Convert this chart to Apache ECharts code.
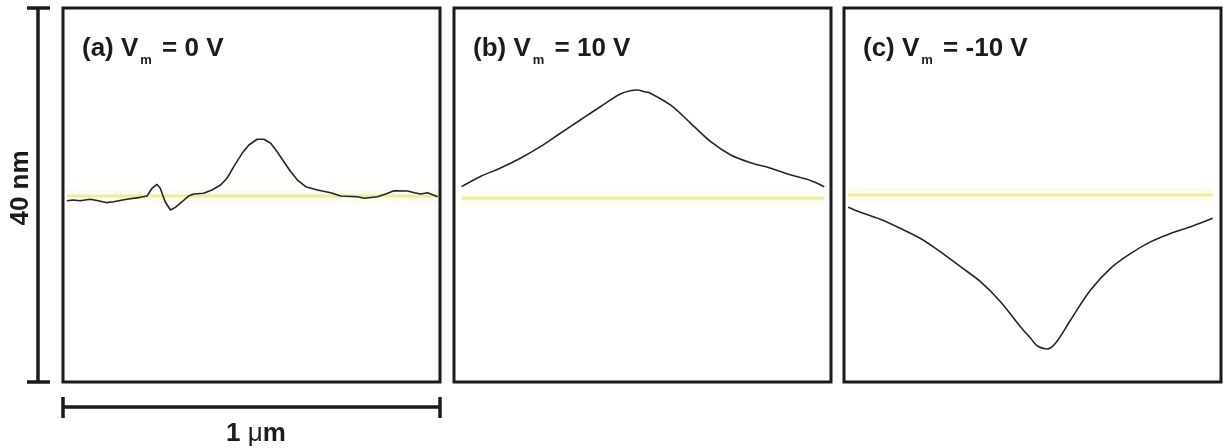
<!DOCTYPE html>
<html>
<head>
<meta charset="utf-8">
<script src="https://cdn.jsdelivr.net/npm/echarts@6/dist/echarts.min.js"></script>
<style>
  html, body { margin: 0; padding: 0; background: #ffffff; }
  #chart { width: 1223px; height: 448px; }
</style>
</head>
<body>
<div id="chart"></div>
<script>
// Surface height profiles (nm) across a 1 µm scan line, for three bias voltages.
const panelLabels = ['(a)', '(b)', '(c)'];
const biasValues = ['0', '10', '-10'];

// (a) V_m = 0 V
const posA = [0.010, 0.027, 0.045, 0.072, 0.094, 0.116, 0.134, 0.169, 0.205, 0.223, 0.236, 0.249, 0.258, 0.271, 0.285, 0.298, 0.316, 0.333, 0.347, 0.373, 0.395, 0.418, 0.435, 0.453, 0.475, 0.493, 0.515, 0.533, 0.551, 0.568, 0.586, 0.604, 0.622, 0.644, 0.675, 0.710, 0.737, 0.781, 0.799, 0.834, 0.856, 0.878, 0.914, 0.932, 0.949, 0.967, 0.994];
const heightA = [19.39, 19.47, 19.39, 19.54, 19.39, 19.18, 19.28, 19.54, 19.75, 19.89, 20.72, 21.14, 20.72, 19.28, 18.40, 18.68, 19.28, 19.89, 20.11, 20.18, 20.53, 21.07, 21.79, 23.03, 24.46, 25.35, 25.96, 25.96, 25.53, 24.63, 23.56, 22.49, 21.60, 20.89, 20.53, 20.25, 19.89, 19.82, 19.65, 19.82, 20.11, 20.46, 20.43, 20.25, 20.11, 20.25, 19.82];

// (b) V_m = 10 V
const posB = [0.020, 0.069, 0.122, 0.176, 0.229, 0.282, 0.335, 0.388, 0.441, 0.468, 0.486, 0.505, 0.521, 0.574, 0.628, 0.681, 0.734, 0.787, 0.840, 0.894, 0.947, 0.982];
const heightB = [20.89, 21.96, 22.86, 23.93, 25.17, 26.60, 28.02, 29.44, 30.80, 31.16, 31.23, 31.05, 30.88, 29.63, 27.67, 25.70, 24.28, 23.45, 22.86, 22.14, 21.53, 20.89];

// (c) V_m = -10 V
const posC = [0.011, 0.043, 0.096, 0.149, 0.202, 0.255, 0.309, 0.362, 0.415, 0.468, 0.495, 0.513, 0.539, 0.561, 0.601, 0.654, 0.707, 0.761, 0.814, 0.867, 0.920, 0.978];
const heightC = [18.68, 18.15, 17.40, 16.44, 15.37, 13.94, 12.33, 10.73, 8.59, 5.91, 4.67, 3.85, 3.53, 4.14, 6.63, 9.84, 12.16, 13.76, 15.01, 15.90, 16.61, 17.51];

// Flat reference level for each panel (nm)
const referenceLevels = [19.9, 19.65, 20.0];

// Axis extents: 1 µm wide, 40 nm tall
const xRange = [0, 1];
const yRange = [0, 40];
const scaleBarLabels = ['40 nm', '1 μm'];

const profiles = [[posA, heightA], [posB, heightB], [posC, heightC]];
const zip = (xs, ys) => xs.map((x, i) => [x, ys[i]]);

const FONT = '"Liberation Sans", Arial, sans-serif';
const INK = '#1b1b1b';
const gridLefts = [63, 454, 844];
const GRID_TOP = 8, GRID_W = 377, GRID_H = 374;

const grids = gridLefts.map(left => ({
  left: left, top: GRID_TOP, width: GRID_W, height: GRID_H,
  show: true, borderColor: INK, borderWidth: 3, backgroundColor: '#ffffff'
}));
const xAxes = gridLefts.map((_, i) => ({
  type: 'value', gridIndex: i, min: xRange[0], max: xRange[1],
  show: false
}));
const yAxes = gridLefts.map((_, i) => ({
  type: 'value', gridIndex: i, min: yRange[0], max: yRange[1],
  show: false
}));

const series = [];
profiles.forEach(([xs, ys], i) => {
  const ref = referenceLevels[i];
  const refLine = [[xs[0], ref], [xs[xs.length - 1], ref]];
  // faint halo around the reference level
  series.push({
    type: 'line', xAxisIndex: i, yAxisIndex: i, data: refLine,
    symbol: 'none', silent: true, z: 1,
    lineStyle: { color: 'rgba(248,248,222,0.5)', width: 14 }
  });
  series.push({
    type: 'line', xAxisIndex: i, yAxisIndex: i, data: refLine,
    symbol: 'none', silent: true, z: 2,
    lineStyle: { color: '#ecee9e', width: 3 }
  });
  series.push({
    type: 'line', xAxisIndex: i, yAxisIndex: i, data: zip(xs, ys),
    symbol: 'none', silent: true, z: 3,
    smooth: i === 0 ? false : 0.35,
    lineStyle: { color: '#262626', width: 1.6 }
  });
});

// Panel captions: "(x) V_m = n V"
const titles = gridLefts.map((left, i) => ({
  text: '{t|' + panelLabels[i] + ' V}{s|m}{t| = ' + biasValues[i] + ' V}',
  left: left + 19,
  top: 35,
  padding: 0,
  textStyle: {
    rich: {
      t: { fontFamily: FONT, fontWeight: 'bold', fontSize: 26, color: INK, lineHeight: 27, verticalAlign: 'bottom' },
      s: { fontFamily: FONT, fontWeight: 'bold', fontSize: 13, color: INK, lineHeight: 13, verticalAlign: 'bottom', padding: [0, 3, -5, 2] }
    }
  }
}));

// Scale bars along the left and bottom of the first panel
const bar = { stroke: INK, lineWidth: 3.5 };
const gx0 = gridLefts[0], gx1 = gridLefts[0] + GRID_W;
const gy0 = GRID_TOP, gy1 = GRID_TOP + GRID_H;
const graphics = [
  { type: 'line', shape: { x1: 38, y1: gy0, x2: 38, y2: gy1 }, style: bar },
  { type: 'line', shape: { x1: 27, y1: gy0, x2: 50, y2: gy0 }, style: bar },
  { type: 'line', shape: { x1: 27, y1: gy1, x2: 50, y2: gy1 }, style: bar },
  { type: 'line', shape: { x1: gx0, y1: 407, x2: gx1, y2: 407 }, style: bar },
  { type: 'line', shape: { x1: gx0, y1: 397, x2: gx0, y2: 418 }, style: bar },
  { type: 'line', shape: { x1: gx1, y1: 397, x2: gx1, y2: 418 }, style: bar },
  {
    type: 'text', x: 21, y: 188, rotation: Math.PI / 2,
    style: {
      text: scaleBarLabels[0], fill: INK, font: 'bold 26px ' + FONT,
      textAlign: 'center', textVerticalAlign: 'middle'
    }
  },
  {
    type: 'text', x: 256, y: 434,
    style: {
      text: '{b|1 }{u|μ}{b|m}',
      textAlign: 'center', textVerticalAlign: 'middle',
      rich: {
        b: { fontFamily: FONT, fontWeight: 'bold', fontSize: 26, fill: INK, color: INK },
        u: { fontFamily: FONT, fontWeight: 'normal', fontSize: 26, fill: INK, color: INK }
      }
    }
  }
];

const chart = echarts.init(document.getElementById('chart'), null, { renderer: 'canvas' });
chart.setOption({
  animation: false,
  backgroundColor: '#ffffff',
  title: titles,
  grid: grids,
  xAxis: xAxes,
  yAxis: yAxes,
  series: series,
  graphic: graphics
});
</script>
</body>
</html>
